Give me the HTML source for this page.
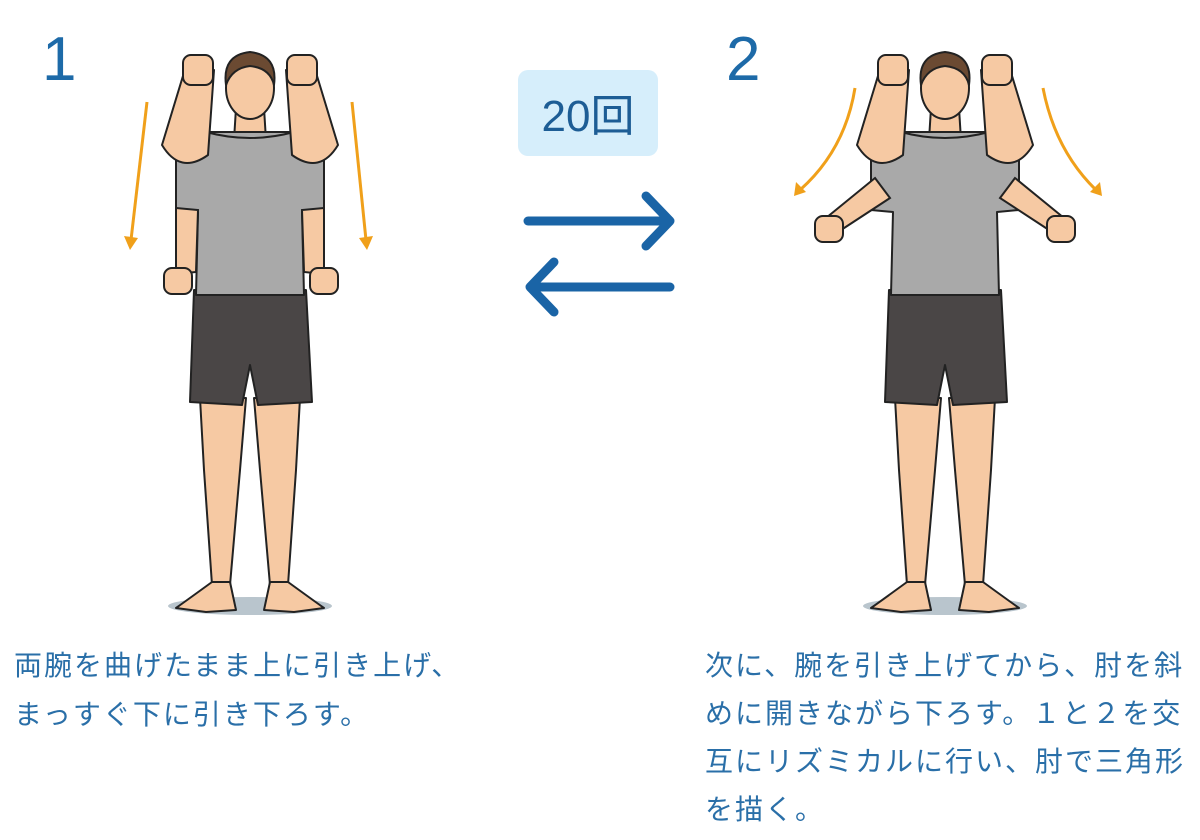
<!DOCTYPE html>
<html><head><meta charset="utf-8"><style>
body{margin:0;background:#fff;width:1200px;height:840px;overflow:hidden;position:relative;font-family:"Liberation Sans","Noto Sans CJK JP",sans-serif}
.t{position:absolute;color:#2a6fa8;font-size:28px;line-height:49px;white-space:nowrap;letter-spacing:2px;font-family:"Noto Sans CJK JP",sans-serif}
</style></head><body>
<svg width="1200" height="840" style="position:absolute;left:0;top:0">
<defs>
<g id="body" stroke="#222" stroke-width="2" stroke-linejoin="round">
<ellipse cx="250" cy="606" rx="82" ry="9" fill="#b9c5cd" stroke="none"/>
<path d="M200 398 L246 398 L240 470 L230 585 L212 585 L204 470 Z" fill="#f6c9a3"/>
<path d="M300 398 L254 398 L260 470 L270 585 L288 585 L296 470 Z" fill="#f6c9a3"/>
<path d="M212 582 L230 582 L236 610 L206 612 L176 608 Q190 598 212 582 Z" fill="#f6c9a3"/>
<path d="M288 582 L270 582 L264 610 L294 612 L324 608 Q310 598 288 582 Z" fill="#f6c9a3"/>
<path d="M194 290 L306 290 L312 402 L258 405 L250 365 L242 405 L190 402 Z" fill="#4a4646"/>
<path d="M236 108 L264 108 L266 140 L234 140 Z" fill="#f6c9a3"/>
<ellipse cx="250" cy="88" rx="24" ry="31" fill="#f6c9a3"/>
<path d="M226 85 Q222 55 250 52 Q278 55 274 85 Q270 68 250 66 Q232 68 226 85 Z" fill="#6b4a32"/>
<path d="M200 132 L300 132 L324 150 L324 210 L302 212 L304 295 L196 295 L198 212 L176 210 L176 150 Z" fill="#a9a9a9"/>
<path d="M206 132 Q250 144 294 132" fill="none"/>
<path d="M162 145 L186 66 L214 70 L208 155 Q180 175 162 145 Z" fill="#f6c9a3"/>
<path d="M338 145 L314 66 L286 70 L292 155 Q320 175 338 145 Z" fill="#f6c9a3"/>
<rect x="183" y="55" width="30" height="30" rx="8" fill="#f6c9a3"/>
<rect x="287" y="55" width="30" height="30" rx="8" fill="#f6c9a3"/>
</g>
</defs>
<use href="#body"/>
<g stroke="#222" stroke-width="2" fill="#f6c9a3">
<path d="M176 208 L198 210 L196 272 L176 274 Z"/>
<path d="M324 208 L302 210 L304 272 L324 274 Z"/>
<rect x="164" y="268" width="28" height="26" rx="8"/>
<rect x="310" y="268" width="28" height="26" rx="8"/>
</g>
<use href="#body" transform="translate(695 0)"/>
<g stroke="#222" stroke-width="2" fill="#f6c9a3">
<path d="M875 178 L890 198 L838 232 L826 218 Z"/>
<path d="M1015 178 L1000 198 L1052 232 L1064 218 Z"/>
<rect x="815" y="216" width="28" height="26" rx="8"/>
<rect x="1047" y="216" width="28" height="26" rx="8"/>
</g>
<g stroke="#f0a01a" stroke-width="3" fill="none">
<line x1="147" y1="102" x2="131" y2="240"/>
<line x1="352" y1="102" x2="366" y2="240"/>
<path d="M855 88 Q845 150 800 190"/>
<path d="M1043 88 Q1055 150 1096 190"/>
</g>
<g fill="#f0a01a">
<path d="M124 236 L130 250 L138 238 Z"/>
<path d="M359 238 L367 250 L373 236 Z"/>
<path d="M794 196 L796 182 L806 192 Z"/>
<path d="M1102 196 L1100 182 L1090 192 Z"/>
</g>
<g stroke="#1a64a6" stroke-width="9" fill="none" stroke-linecap="round" stroke-linejoin="round">
<line x1="528" y1="221" x2="668" y2="221"/><path d="M646 196 L670 221 L646 246"/>
<line x1="532" y1="287" x2="670" y2="287"/><path d="M554 262 L530 287 L554 312"/>
</g>
<rect x="518" y="70" width="140" height="86" rx="10" fill="#d6eefb"/>
<text x="588" y="131" text-anchor="middle" font-size="44" fill="#1d5d95" font-family="Liberation Sans,Noto Sans CJK JP,sans-serif">20回</text>
<text x="42" y="80" font-size="62" fill="#1d6aa8" font-family="Liberation Sans,sans-serif">1</text>
<text x="726" y="80" font-size="62" fill="#1d6aa8" font-family="Liberation Sans,sans-serif">2</text>
</svg>
<div class="t" style="left:14px;top:640px">両腕を曲げたまま上に引き上げ、<br>まっすぐ下に引き下ろす。</div>
<div class="t" style="left:705px;top:640px;line-height:48px">次に、腕を引き上げてから、肘を斜<br>めに開きながら下ろす。１と２を交<br>互にリズミカルに行い、肘で三角形<br>を描く。</div>
</body></html>
